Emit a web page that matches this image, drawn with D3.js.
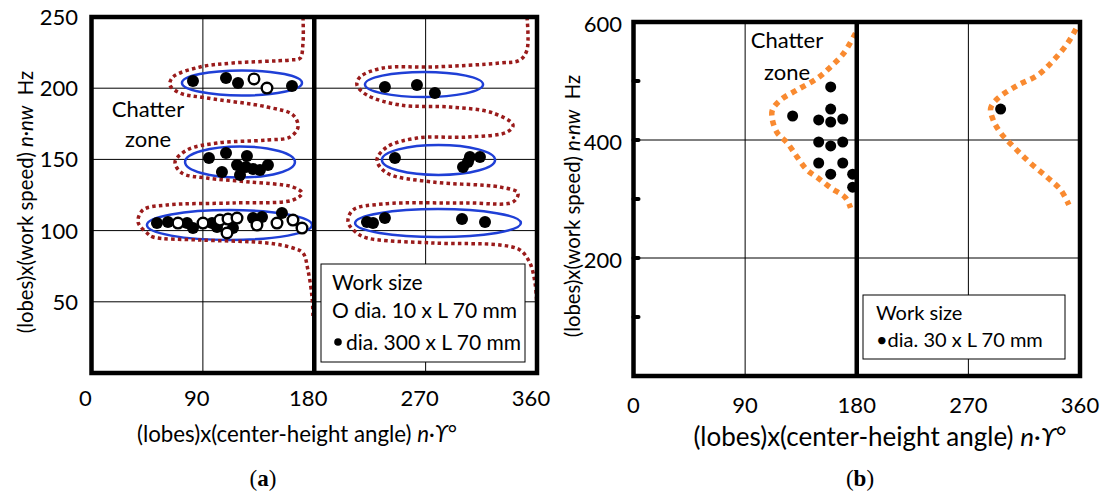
<!DOCTYPE html>
<html lang="en">
<head>
  <meta charset="UTF-8">
  <script src="https://d3js.org/d3.v7.min.js"></script>
  <title>Chatter zones</title>
  <style>
    body { margin: 0; background: #fff; }
    text { font-family: Lato, "Open Sans", sans-serif; fill: #000; }
  </style>
</head>
<body>
<div id="chart"></div>
<script>

// ---- data (degrees, Hz) ----
var xTicks = [0, 90, 180, 270, 360];
var yTicksA = [50, 100, 150, 200, 250];
var yTicksB = [200, 400, 600];
var yMinorB = [100, 200, 300, 400, 500];

// panel (a) stability curves
var curveA1 = [[170.9,250],[170.9,231.7],[168.5,221],[160.4,219.8],[114.3,217.7],[87.7,214.9],[65.9,207.9],[63.4,202.2],
  [71.5,196.6],[93.3,193.1],[141.8,186.8],[162.8,181.2],[166.9,172.8],[160.4,165.7],[141.8,163.6],[101.4,161.5],
  [77.2,156.6],[67.5,148.2],[73.1,140.4],[93.3,136.9],[128.1,134.1],[162.8,130.6],[170.1,126.4],[162.8,121.5],
  [114.3,119.4],[61,118],[41.6,114.5],[37.6,106],[44.8,98.3],[49.7,95.5],[87.7,93.4],[141.8,91.3],[162.8,87.8],
  [170.9,84.3],[174.9,72.3],[178.2,53.4],[179,39.3]];
var curveA2 = [[351.9,250],[351.9,226.8],[346.2,219.8],[330.1,217.7],[275.9,214.9],[235.5,214.2],[217,207.9],[214.5,202.2],
  [222.6,195.2],[249.3,188.2],[289.7,186.8],[324.4,182.6],[340.6,174.2],[335.8,169.2],[303.4,165.7],[263,165],
  [238.8,158.7],[230.7,149.6],[238.8,140.4],[276,134.1],[330.1,130.6],[344.6,126.4],[340.6,120.1],[303.4,119.4],
  [235.5,118.7],[211.3,114.5],[207.3,106],[214.5,98.3],[222.6,94.8],[276,91.3],[330.1,89.9],[346.2,86.4],
  [354.3,77.2],[358.4,63.2],[360,45.6]];

// panel (a) ellipses: [cx, cy, rx, ry]
var ellipsesA = [[121.6,203.7,48.5,8.8],[120,148.2,44.4,10.9],[111.5,103.9,66.7,10.5],
  [268.7,202.6,47.7,8.8],[280.4,149.6,45.7,10.5],[280,105.3,67,9.8]];

// panel (a) measurements
var filledA = [[82,205.1],[108.7,207.2],[118.4,203.7],[162,201.6],
  [94.9,151],[108.7,154.5],[105.4,141.2],[117.6,146.1],[125.6,152.4],[124.8,144.7],[120,139],[130.5,143.3],[142.6,146.1],[136.1,142.6],
  [52.9,105.3],[61.8,106],[77.2,105.3],[82,101.8],[97.4,105.3],[101.4,102.5],[114.3,101.8],[130.5,108.8],[137.8,109.6],[153.9,112.4],
  [237.1,200.8],[263,202.2],[277.5,196.6],
  [245.2,151],[305.8,151.7],[313.9,151.7],[300.2,144.7],[304.2,148.2],
  [222.6,106],[227.5,105.3],[237.1,108.8],[299.4,108.1],[318,106]];
var openA = [[131.3,206.5],[141.8,200.1],
  [69.9,105.3],[90.1,105.3],[103.8,107.4],[110.3,108.1],[109.5,98.3],[117.6,108.8],[133.7,103.9],[149.9,105.3],[162.8,107.4],[170.1,101.8]];

// panel (b)
var curveB1 = [[179,581],[169.5,547],[159,524],[148.5,505],[132,485],[118.6,468],[112,451],[112,434],[116,412],
  [124,395],[132,371],[140,349],[148.5,336],[159,319],[171,302],[175,285]];
var curveB2 = [[356.7,588],[350,564],[339,536],[326,510],[310,493],[294,471],[288,454],[290,434],[296,412],
  [306.7,388],[320,361],[334,336],[344.6,315],[351,290]];
var filledB = [[128.3,440.7],[159,490],[159,452.5],[149.3,434],[159,430.5],[168.7,435.6],[149.3,396.6],[159,390],
  [168.7,396.6],[149.3,361],[168.7,361],[159,342],[176.7,342],[176.7,320],[296,452.5]];

var legendA = ["Work size", "O dia. 10 x L 70 mm", "dia. 300 x L 70 mm"];
var legendB = ["Work size", "\u2022dia. 30 x L 70 mm"];

// ---- drawing ----
var svg = d3.select("#chart").append("svg")
  .attr("width", 1107).attr("height", 496);

var xA = d3.scaleLinear().domain([0, 360]).range([91.5, 537]);
var yA = d3.scaleLinear().domain([0, 250]).range([373, 17]);
var xB = d3.scaleLinear().domain([0, 360]).range([633.5, 1080]);
var yB = d3.scaleLinear().domain([0, 600]).range([376, 22]);

function grid(g, x, y, yGrid) {
  g.selectAll(".vg").data([90, 270]).enter().append("line")
    .attr("x1", function(d) { return x(d); }).attr("x2", function(d) { return x(d); })
    .attr("y1", y.range()[0]).attr("y2", y.range()[1])
    .attr("stroke", "#000").attr("stroke-width", 1);
  g.selectAll(".hg").data(yGrid).enter().append("line")
    .attr("x1", x.range()[0]).attr("x2", x.range()[1])
    .attr("y1", function(d) { return y(d); }).attr("y2", function(d) { return y(d); })
    .attr("stroke", "#000").attr("stroke-width", 1);
}

function frame(g, x, y) {
  g.append("rect")
    .attr("x", x.range()[0]).attr("y", y.range()[1])
    .attr("width", x.range()[1] - x.range()[0]).attr("height", y.range()[0] - y.range()[1])
    .attr("fill", "none").attr("stroke", "#000").attr("stroke-width", 4.5);
  g.append("line")
    .attr("x1", x(180)).attr("x2", x(180))
    .attr("y1", y.range()[0]).attr("y2", y.range()[1])
    .attr("stroke", "#000").attr("stroke-width", 4.5);
}

function curve(g, x, y, pts, color, w, dash) {
  var line = d3.line()
    .x(function(d) { return x(d[0]); })
    .y(function(d) { return y(d[1]); })
    .curve(d3.curveCatmullRom.alpha(0.5));
  g.append("path").attr("d", line(pts))
    .attr("fill", "none").attr("stroke", color)
    .attr("stroke-width", w).attr("stroke-dasharray", dash);
}

// panel (a)
var ga = svg.append("g");
grid(ga, xA, yA, [50, 100, 150, 200]);

ga.selectAll(".ell").data(ellipsesA).enter().append("ellipse")
  .attr("cx", function(d) { return xA(d[0]); })
  .attr("cy", function(d) { return yA(d[1]); })
  .attr("rx", function(d) { return xA(d[0] + d[2]) - xA(d[0]); })
  .attr("ry", function(d) { return yA(d[1] - d[3]) - yA(d[1]); })
  .attr("fill", "none").attr("stroke", "#1f3fd6").attr("stroke-width", 2.5);

curve(ga, xA, yA, curveA1, "#9a1b1b", 3.5, "3.5,3.2");
curve(ga, xA, yA, curveA2, "#9a1b1b", 3.5, "3.5,3.2");

ga.selectAll(".fa").data(filledA).enter().append("circle")
  .attr("cx", function(d) { return xA(d[0]); })
  .attr("cy", function(d) { return yA(d[1]); })
  .attr("r", 6).attr("fill", "#000");
ga.selectAll(".oa").data(openA).enter().append("circle")
  .attr("cx", function(d) { return xA(d[0]); })
  .attr("cy", function(d) { return yA(d[1]); })
  .attr("r", 5.3).attr("fill", "#fff").attr("stroke", "#000").attr("stroke-width", 2.4);

frame(ga, xA, yA);

ga.selectAll(".xl").data(xTicks).enter().append("text")
  .attr("x", function(d) { return xA(d) - 6; }).attr("y", 406)
  .attr("text-anchor", "middle").style("font-size", "22px")
  .text(function(d) { return d; });
ga.selectAll(".yl").data(yTicksA).enter().append("text")
  .attr("x", 78).attr("y", function(d) { return yA(d) + 8; })
  .attr("text-anchor", "end").style("font-size", "22px")
  .text(function(d) { return d; });

ga.append("text").attr("x", 148).attr("y", 117).attr("text-anchor", "middle")
  .style("font-size", "22px").text("Chatter");
ga.append("text").attr("x", 148).attr("y", 147).attr("text-anchor", "middle")
  .style("font-size", "22px").text("zone");

var la = ga.append("g");
la.append("rect").attr("x", 321).attr("y", 264).attr("width", 204).attr("height", 98)
  .attr("fill", "#fff").attr("stroke", "#000").attr("stroke-width", 1);
la.append("text").attr("x", 332).attr("y", 290).style("font-size", "21px").text(legendA[0]);
la.append("text").attr("x", 332).attr("y", 318).style("font-size", "21px").text(legendA[1]);
la.append("circle").attr("cx", 338).attr("cy", 342).attr("r", 3.8).attr("fill", "#000");
la.append("text").attr("x", 346).attr("y", 350).style("font-size", "21px").text(legendA[2]);

var ta = ga.append("text").attr("x", 297).attr("y", 442).attr("text-anchor", "middle").style("font-size", "22.3px");
ta.append("tspan").text("(lobes)x(center-height angle) ");
ta.append("tspan").style("font-style", "italic").text("n\u00b7\u03d2");
ta.append("tspan").text("\u00b0");

var tya = ga.append("text").attr("transform", "translate(33,202) rotate(-90)")
  .attr("text-anchor", "middle").style("font-size", "20.3px");
tya.append("tspan").text("(lobes)x(work speed) ");
tya.append("tspan").style("font-style", "italic").text("n\u00b7nw");
tya.append("tspan").text("\u00a0\u00a0Hz");

var pa = ga.append("text").attr("x", 263).attr("y", 486).attr("text-anchor", "middle")
  .style("font-family", "'Liberation Serif', serif").style("font-size", "23px");
pa.append("tspan").text("(");
pa.append("tspan").style("font-weight", "bold").text("a");
pa.append("tspan").text(")");

// panel (b)
var gb = svg.append("g");
grid(gb, xB, yB, [200, 400]);

curve(gb, xB, yB, curveB1, "#f98a30", 5.5, "5.5,5");
curve(gb, xB, yB, curveB2, "#f98a30", 5.5, "5.5,5");

gb.selectAll(".fb").data(filledB).enter().append("circle")
  .attr("cx", function(d) { return xB(d[0]); })
  .attr("cy", function(d) { return yB(d[1]); })
  .attr("r", 5.5).attr("fill", "#000");

frame(gb, xB, yB);

gb.selectAll(".tk").data(yMinorB).enter().append("line")
  .attr("x1", xB(0)).attr("x2", xB(0) + 5)
  .attr("y1", function(d) { return yB(d); }).attr("y2", function(d) { return yB(d); })
  .attr("stroke", "#000").attr("stroke-width", 4).attr("stroke-linecap", "round");

gb.selectAll(".xl").data(xTicks).enter().append("text")
  .attr("x", function(d) { return xB(d); }).attr("y", 413)
  .attr("text-anchor", "middle").style("font-size", "22px")
  .text(function(d) { return d; });
gb.selectAll(".yl").data(yTicksB).enter().append("text")
  .attr("x", 622).attr("y", function(d) { return yB(d) + 10; })
  .attr("text-anchor", "end").style("font-size", "22px")
  .text(function(d) { return d; });

gb.append("text").attr("x", 787).attr("y", 48).attr("text-anchor", "middle")
  .style("font-size", "22px").text("Chatter");
gb.append("text").attr("x", 787).attr("y", 80).attr("text-anchor", "middle")
  .style("font-size", "22px").text("zone");

var lb = gb.append("g");
lb.append("rect").attr("x", 863).attr("y", 295).attr("width", 202).attr("height", 64)
  .attr("fill", "#fff").attr("stroke", "#000").attr("stroke-width", 1);
lb.append("text").attr("x", 876).attr("y", 320).style("font-size", "20px").text(legendB[0]);
lb.append("text").attr("x", 876).attr("y", 347).style("font-size", "20px").text(legendB[1]);

var tb = gb.append("text").attr("x", 880).attr("y", 446).attr("text-anchor", "middle").style("font-size", "26px");
tb.append("tspan").text("(lobes)x(center-height angle) ");
tb.append("tspan").style("font-style", "italic").text("n\u00b7\u03d2");
tb.append("tspan").text("\u00b0");

var tyb = gb.append("text").attr("transform", "translate(580,206) rotate(-90)")
  .attr("text-anchor", "middle").style("font-size", "20.3px");
tyb.append("tspan").text("(lobes)x(work speed) ");
tyb.append("tspan").style("font-style", "italic").text("n\u00b7nw");
tyb.append("tspan").text("\u00a0\u00a0Hz");

var pb = gb.append("text").attr("x", 860).attr("y", 486).attr("text-anchor", "middle")
  .style("font-family", "'Liberation Serif', serif").style("font-size", "23px");
pb.append("tspan").text("(");
pb.append("tspan").style("font-weight", "bold").text("b");
pb.append("tspan").text(")");

</script>
</body>
</html>
